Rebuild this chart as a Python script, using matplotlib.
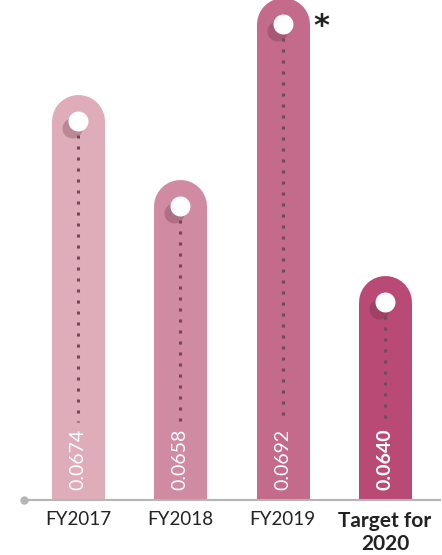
import numpy as np
from matplotlib import pyplot as plt

categories = ["FY2017", "FY2018", "FY2019", "Target for\n2020"]
values = [0.0674, 0.0658, 0.0692, 0.0640]
value_labels = ["0.0674", "0.0658", "0.0692", "0.0640"]
bar_colors = ["#dfadb9", "#d08aa1", "#c46a8a", "#b94a75"]

W, H = 442, 555
BASE_PX = 55          # baseline height from bottom (px)
TOP_PX = 520          # axes height in px (runs a bit past the top edge)
SCALE = 53432.0       # px per unit
V0 = 0.060298         # value at baseline
XPX = 102.33          # px per category


def main() -> None:
    plt.rcParams["font.family"] = ["Lato", "DejaVu Sans"]
    fig = plt.figure(figsize=(W / 100, H / 100), dpi=100)
    ax = fig.add_axes([0, BASE_PX / H, 1, TOP_PX / H])
    ax.set_xlim(-78 / XPX, (W - 78) / XPX)
    ax.set_ylim(V0, V0 + TOP_PX / SCALE)
    ax.axis("off")

    x = np.arange(len(values))
    vals = np.array(values)
    lw = 53 * 72 / 100

    for i in range(len(x)):
        # pill shaped bar: round-capped line, bottom cap clipped by the axes
        ax.plot([x[i], x[i]], [vals[i], V0 - 60 / SCALE], color=bar_colors[i],
                lw=lw, solid_capstyle="round", zorder=1)
        # shadow + white dot
        ax.plot(x[i] - 6 / XPX, vals[i] - 7 / SCALE, "o", ms=20 * 0.72,
                color="#5a2a3c", alpha=0.28, mec="none", zorder=2)
        ax.plot(x[i], vals[i], "o", ms=20 * 0.72, color="white", mec="none",
                zorder=3)
        # dotted guide
        ax.plot([x[i], x[i]], [vals[i] - 14 / SCALE, V0 + 78 / SCALE],
                color="#6e4a5a", lw=2.2, ls=(0, (1, 2.6)), zorder=2)
        bold = i == len(x) - 1
        ax.text(x[i], V0 + 10 / SCALE, value_labels[i], rotation=90,
                ha="center", va="bottom", color="white", fontsize=14,
                fontweight="bold" if bold else "normal", zorder=4)
        ax.text(x[i], V0 - 11 / SCALE, categories[i], ha="center", va="top",
                color="#222222", fontsize=15 if bold else 13.5, linespacing=1.2,
                fontweight="bold" if bold else "normal", clip_on=False)

    # baseline
    x0, x1 = -54 / XPX, (440 - 78) / XPX
    ax.plot([x0, x1], [V0, V0], color="#b5b5b5", lw=1.5, clip_on=False, zorder=5)
    ax.plot(x0, V0, "o", ms=5, color="#b5b5b5", clip_on=False, zorder=5)

    ax.text(x[2] + 39 / XPX, vals[2] - 2 / SCALE, "*", ha="center",
            va="center", fontsize=22, fontweight="bold", color="#222222",
            family="DejaVu Sans")

    fig.savefig("out.png", dpi=100)
    plt.close(fig)


if __name__ == "__main__":
    main()
